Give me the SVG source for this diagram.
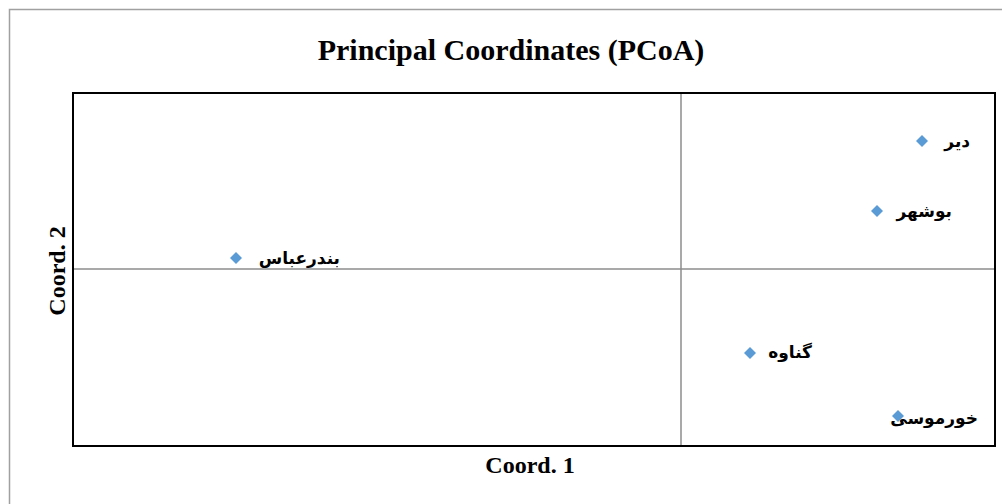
<svg xmlns="http://www.w3.org/2000/svg" width="1002" height="504" viewBox="0 0 1002 504">
<style>
.frame{fill:#fff;stroke:#a0a0a0;stroke-width:1.5}
.plot{fill:none;stroke:#000;stroke-width:2}
.grid{stroke:#8c8c8c;stroke-width:1.5}
.pt{fill:#5b9bd5}
.ttl{font-family:"Liberation Serif",serif;font-weight:bold;fill:#000}
.lbl{font-family:"DejaVu Sans","Noto Sans",sans-serif;font-weight:bold;font-size:17px;fill:#000}
</style>
<defs><path id="dm" d="M0,-6 L6,0 L0,6 L-6,0 Z"/></defs>
<rect class="frame" x="9.5" y="9.5" width="1010" height="510"/>
<text class="ttl" x="511" y="60" font-size="30" text-anchor="middle">Principal Coordinates (PCoA)</text>
<g id="axes">
<line class="grid" x1="681" y1="93" x2="681" y2="446"/>
<line class="grid" x1="73" y1="269" x2="995" y2="269"/>
<rect class="plot" x="73" y="93" width="922" height="353"/>
</g>
<text class="ttl" x="530" y="473" font-size="24" text-anchor="middle">Coord. 1</text>
<text class="ttl" transform="translate(65,271) rotate(-90)" font-size="24" text-anchor="middle">Coord. 2</text>
<g id="p-deyr"><use href="#dm" class="pt" x="922" y="141"/><text class="lbl" x="970" y="147" text-anchor="end">دیر</text></g>
<g id="p-bushehr"><use href="#dm" class="pt" x="877" y="211"/><text class="lbl" x="952" y="217" text-anchor="end">بوشهر</text></g>
<g id="p-bandarabbas"><use href="#dm" class="pt" x="236" y="258"/><text class="lbl" x="340" y="264" text-anchor="end">بندرعباس</text></g>
<g id="p-genaveh"><use href="#dm" class="pt" x="750" y="353"/><text class="lbl" x="812" y="358" text-anchor="end">گناوه</text></g>
<g id="p-khormusi"><use href="#dm" class="pt" x="898" y="416"/><text class="lbl" x="978" y="424" text-anchor="end">خورموسی</text></g>
</svg>
